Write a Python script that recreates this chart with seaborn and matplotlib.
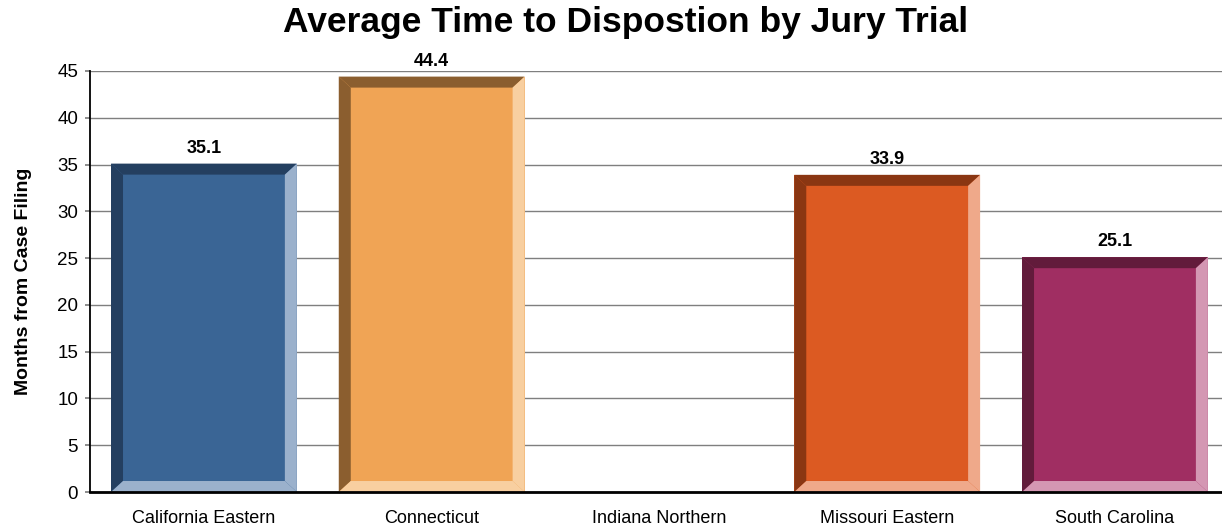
import matplotlib
matplotlib.use("Agg")
import matplotlib.pyplot as plt
import seaborn as sns
import pandas as pd
from matplotlib.patches import Polygon

categories = ["California Eastern", "Connecticut", "Indiana Northern", "Missouri Eastern", "South Carolina"]
values = [35.1, 44.4, 0.0, 33.9, 25.1]
labels = ["35.1", "44.4", "", "33.9", "25.1"]
face_colors = ["#3A6595", "#F0A455", "#FFFFFF", "#DC5A22", "#A02E62"]
dark_colors = ["#243F60", "#8B5E2F", "#FFFFFF", "#8A3612", "#621B3B"]
light_colors = ["#9BB1CC", "#F8CFA0", "#FFFFFF", "#EFA98A", "#D497B3"]
yticks = [0, 5, 10, 15, 20, 25, 30, 35, 40, 45]

sns.set_theme(style="white")
plt.rcParams['font.family'] = ['Liberation Sans', 'DejaVu Sans']
plt.rcParams['text.color'] = 'black'
plt.rcParams['axes.labelcolor'] = 'black'
plt.rcParams['xtick.color'] = 'black'
plt.rcParams['ytick.color'] = 'black'

fig = plt.figure(figsize=(12.22, 5.27), dpi=100)
ax = fig.add_axes([0.0737, 0.0664, 0.9263, 0.7989])

df = pd.DataFrame({"cat": categories, "val": values})
sns.barplot(data=df, x="cat", y="val", hue="cat", palette=face_colors, legend=False,
            width=0.816, ax=ax, zorder=3, linewidth=0, saturation=1)

ax.set_xlim(-0.5, 4.47)
ax.set_ylim(0, 45)
ax.set_yticks(yticks)
ax.yaxis.grid(True, color="#7f7f7f", linewidth=1, zorder=0)
ax.set_axisbelow(True)

# bevel sizes in pixels converted to data units
fig.canvas.draw()
bbox = ax.get_window_extent()
px_x = (4.47 + 0.5) / bbox.width
px_y = 45.0 / bbox.height
bx = 12 * px_x
by = 11 * px_y

for i, p in enumerate(ax.patches):
    h = p.get_height()
    if h <= 0:
        continue
    x0 = p.get_x()
    x1 = x0 + p.get_width()
    y0, y1 = 0, h
    ax.add_patch(Polygon([[x0, y0], [x0 + bx, y0 + by], [x0 + bx, y1 - by], [x0, y1]],
                         closed=True, facecolor=dark_colors[i], edgecolor="none", zorder=4))
    ax.add_patch(Polygon([[x0, y1], [x0 + bx, y1 - by], [x1 - bx, y1 - by], [x1, y1]],
                         closed=True, facecolor=dark_colors[i], edgecolor="none", zorder=4))
    ax.add_patch(Polygon([[x1, y1], [x1 - bx, y1 - by], [x1 - bx, y0 + by], [x1, y0]],
                         closed=True, facecolor=light_colors[i], edgecolor="none", zorder=4))
    ax.add_patch(Polygon([[x0, y0], [x0 + bx, y0 + by], [x1 - bx, y0 + by], [x1, y0]],
                         closed=True, facecolor=light_colors[i], edgecolor="none", zorder=4))
    ax.text(p.get_x() + p.get_width() / 2, h + 0.75, labels[i], ha="center", va="bottom",
            fontsize=13, fontweight="bold", color="black", zorder=5)

for s in ["top", "right"]:
    ax.spines[s].set_visible(False)
ax.spines["left"].set_color("black")
ax.spines["left"].set_linewidth(1.3)
ax.spines["bottom"].set_color("black")
ax.spines["bottom"].set_linewidth(2)
ax.spines["bottom"].set_zorder(6)

ax.tick_params(axis="y", which="both", left=True, length=3.6, color="#7f7f7f", labelsize=13.5,
               pad=5, labelcolor="black")
ax.tick_params(axis="x", bottom=False, labelsize=13, pad=7, labelcolor="black")
ax.set_xlabel("")
ax.set_ylabel("Months from Case Filing", fontsize=14, fontweight="bold", labelpad=18, color="black")

fig.suptitle("Average Time to Dispostion by Jury Trial", fontsize=25.5, fontweight="bold",
             x=0.512, y=0.988, color="black")

fig.savefig("out.png", dpi=100)
